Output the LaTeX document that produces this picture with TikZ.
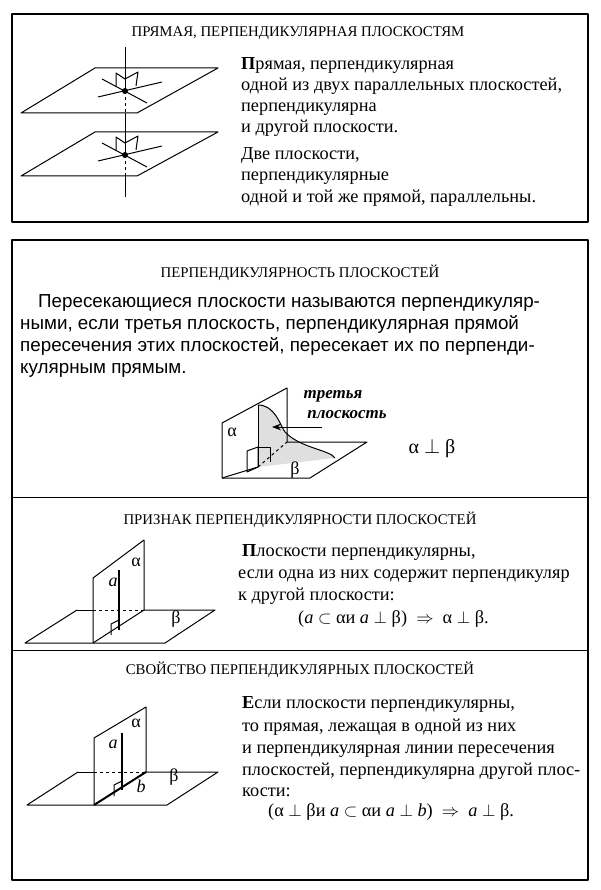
\documentclass[tikz,border=0pt]{standalone}
\usepackage{fontspec}
\setmainfont{Liberation Serif}
\setsansfont{Liberation Sans}
\usetikzlibrary{positioning,arrows.meta}
\tikzset{
  body/.style={anchor=base west,inner sep=0pt,font=\fontsize{18.3}{20}\selectfont},
  para/.style={anchor=base west,inner sep=0pt,font=\sffamily\fontsize{18.8}{20}\selectfont},
  head/.style={inner sep=0pt,font=\fontsize{14.8}{16}\selectfont},
  lbl/.style={inner sep=0pt,font=\fontsize{18}{20}\selectfont},
  edge/.style={line width=1pt},
}
\begin{document}
\begin{tikzpicture}[x=1pt,y=-1pt,line join=round]
  \useasboundingbox (0,0) rectangle (600,890);
  % frames
  \draw[line width=2pt] (12,14) rectangle (588,222);
  \draw[line width=2pt] (12,240) rectangle (588,880);
  \draw[edge] (12,497) -- (588,497);
  \draw[edge] (12,650) -- (588,650);

  % box 1
  \node[head] (t1) at (298,33) {ПРЯМАЯ, ПЕРПЕНДИКУЛЯРНАЯ ПЛОСКОСТЯМ};
  \begin{scope}[edge]
    \draw (21,113) -- (137,113) -- (218,68) -- (95,68) -- cycle;
    \draw (21,176) -- (137,176) -- (218,132) -- (95,132) -- cycle;
    \draw (125,47) -- (125,91);
    \draw[dashed] (125,91) -- (125,113);
    \draw (125,113) -- (125,155);
    \draw[dashed] (125,155) -- (125,176);
    \draw (125,176) -- (125,197);
    \foreach \y in {0,64}{
      \begin{scope}[yshift=-\y]
        \draw (98,97) -- (162,82);
        \draw (102,79) -- (147,103);
        \draw (116,87) -- (116,73) -- (125,79) -- (138,72) -- (136,86);
      \end{scope}
    }
    \fill (125,91) circle (3);
    \fill (125,155) circle (3);
  \end{scope}
  \node[body] (p1) at (241,70) {\textbf{П}рямая, перпендикулярная};
  \node[body] (p2) at (241,91) {одной из двух параллельных плоскостей,};
  \node[body] (p3) at (241,112) {перпендикулярна};
  \node[body] (p4) at (241,133) {и другой плоскости.};
  \node[body] (p5) at (241,160) {Две плоскости,};
  \node[body] (p6) at (241,181) {перпендикулярные};
  \node[body] (p7) at (241,203) {одной и той же прямой, параллельны.};

  % box 2
  \node[head] (t2) at (300,273) {ПЕРПЕНДИКУЛЯРНОСТЬ ПЛОСКОСТЕЙ};
  \node[para] (q1) at (38,307) {Пересекающиеся плоскости называются перпендикуляр-};
  \node[para] (q2) at (20,329) {ными, если третья плоскость, перпендикулярная прямой};
  \node[para] (q3) at (20,351) {пересечения этих плоскостей, пересекает их по перпенди-};
  \node[para] (q4) at (20,373) {кулярным прямым.};
  \begin{scope}[edge]
    \fill[gray!25] (258,405) .. controls (275,405) and (280,425) .. (285,432)
      .. controls (300,448) and (330,450) .. (335,458) -- (258,467) -- cycle;
    \draw (258,405) .. controls (275,405) and (280,425) .. (285,432)
      .. controls (300,448) and (330,450) .. (335,458);
    \draw (222,478) -- (222,423) -- (287,388) -- (287,442);
    \draw (222,478) -- (310,478) -- (367,442) -- (287,442);
    \draw (222,478) -- (258,467);
    \draw[dashed] (258,467) -- (287,442);
    \draw (258,405) -- (258,467);
    \draw (247,451) -- (258,447) -- (258,467);
    \draw (247,451) -- (247,472) -- (258,467);
    \draw (258,447) -- (270,447) -- (270,462);
    \draw[-{Stealth[length=9pt]}] (322,427) -- (272,427);
  \end{scope}
  \node[lbl,font=\bfseries\itshape\fontsize{17}{18}\selectfont] (third) at (333,396) {третья};
  \node[lbl,font=\bfseries\itshape\fontsize{17}{18}\selectfont] (plane) at (347,415) {плоскость};
  \node[lbl] (al2) at (232,432) {α};
  \node[lbl] (be2) at (295,470) {β};
  \node[lbl,font=\fontsize{20}{22}\selectfont] (res2) at (432,448) {α $\perp$ β};

  % box 3
  \node[head] (t3) at (300,520) {ПРИЗНАК ПЕРПЕНДИКУЛЯРНОСТИ ПЛОСКОСТЕЙ};
  \begin{scope}[edge]
    \draw (77,610) -- (93,610);
    \draw[dashed] (93,610) -- (144,610);
    \draw (144,610) -- (215,610) -- (165,643) -- (25,643) -- (77,610);
    \draw (93,643) -- (93,578) -- (144,540) -- (144,610) -- (93,643);
    \draw[line width=2pt] (119,570) -- (119,630);
    \draw (111,635) -- (111,624) -- (119,620);
  \end{scope}
  \node[lbl,font=\itshape\fontsize{18}{20}\selectfont] (a3) at (113,582) {a};
  \node[lbl] (al3) at (136,562) {α};
  \node[lbl] (be3) at (176,619) {β};
  \node[body] (r1) at (242,556) {\textbf{П}лоскости перпендикулярны,};
  \node[body] (r2) at (238,578) {если одна из них содержит перпендикуляр};
  \node[body] (r3) at (238,600) {к другой плоскости:};
  \node[body] (r4) at (298,623) {(\textit{a} $\subset$ αи \textit{a} $\perp$ β) \ $\Rightarrow$ \ α $\perp$ β.};

  % box 4
  \node[head] (t4) at (300,670) {СВОЙСТВО ПЕРПЕНДИКУЛЯРНЫХ ПЛОСКОСТЕЙ};
  \begin{scope}[edge]
    \draw (78,772) -- (94,772);
    \draw[dashed] (94,772) -- (146,772);
    \draw (146,772) -- (218,772) -- (167,805) -- (27,805) -- (78,772);
    \draw (94,805) -- (94,738) -- (146,707) -- (146,772);
    \draw[line width=2pt] (94,805) -- (146,772);
    \draw[line width=2pt] (122,733) -- (122,790);
    \draw (114,796) -- (114,785) -- (122,781);
  \end{scope}
  \node[lbl,font=\itshape\fontsize{18}{20}\selectfont] (a4) at (113,744) {a};
  \node[lbl] (al4) at (136,723) {α};
  \node[lbl,font=\itshape\fontsize{18}{20}\selectfont] (b4) at (141,786) {b};
  \node[lbl] (be4) at (174,777) {β};
  \node[body] (s1) at (242,708) {\textbf{Е}сли плоскости перпендикулярны,};
  \node[body] (s2) at (242,731) {то прямая, лежащая в одной из них};
  \node[body] (s3) at (242,753) {и перпендикулярная линии пересечения};
  \node[body] (s4) at (242,775) {плоскостей, перпендикулярна другой плос-};
  \node[body] (s5) at (242,796) {кости:};
  \node[body] (s6) at (268,816) {(α $\perp$ βи \textit{a} $\subset$ αи \textit{a} $\perp$ \textit{b}) \ $\Rightarrow$ \ \textit{a} $\perp$ β.};
\end{tikzpicture}
\end{document}
